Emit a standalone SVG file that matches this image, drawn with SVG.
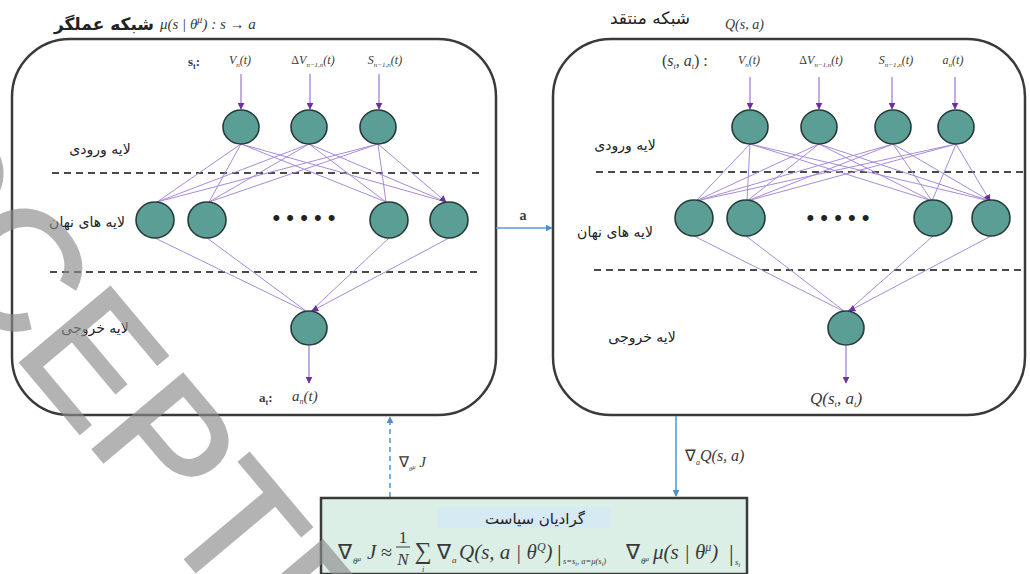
<svg xmlns="http://www.w3.org/2000/svg" width="1030" height="574" viewBox="0 0 1030 574">
<defs>
<style>
.box{fill:none;stroke:#3a3a3a;stroke-width:2.5}
.node{fill:#5b9e95;stroke:#263c39;stroke-width:1.6}
.edge{fill:none;stroke:#a88bd8;stroke-width:1;marker-end:url(#pa)}
.inarr{fill:none;stroke:#a88bd8;stroke-width:1.4;marker-end:url(#pa)}
.dash{stroke:#4a4a4a;stroke-width:2;stroke-dasharray:7 5}
.blue{stroke:#5b9bd5;stroke-width:1.6;fill:none}
.m{font-family:"Liberation Serif",serif;font-style:italic;fill:#3a3a3a}
.mn{font-family:"Liberation Serif",serif;fill:#3a3a3a}
.fa{font-family:"DejaVu Sans","Noto Sans",sans-serif;fill:#222;text-anchor:middle}
.dots{font-family:"Liberation Sans",sans-serif;font-size:22px;fill:#222;text-anchor:middle}
.wm{font-family:"Liberation Sans",sans-serif;font-size:170px;fill:#8c8c8c;stroke:#8c8c8c;stroke-width:3;opacity:0.65}
</style>
<marker id="pa" viewBox="0 0 10 10" refX="9" refY="5" markerWidth="7" markerHeight="7" orient="auto" markerUnits="userSpaceOnUse">
<path d="M0,0 L10,5 L0,10 z" fill="#7030a0"/>
</marker>
<marker id="ba" viewBox="0 0 10 10" refX="9" refY="5" markerWidth="7" markerHeight="7" orient="auto" markerUnits="userSpaceOnUse">
<path d="M0,0 L10,5 L0,10 z" fill="#4a8fd0"/>
</marker>
</defs>
<rect width="1030" height="574" fill="#fff"/>

<!-- Actor network -->
<g id="actor">
<rect class="box" x="12" y="39" width="484" height="376" rx="58" ry="58"/>
<text class="fa" x="104" y="30" font-size="17" font-weight="bold">شبکه عملگر</text>
<text class="m" x="160" y="29" font-size="15">μ(s | θ<tspan font-size="10" dy="-6">μ</tspan><tspan dy="6">) : s → a</tspan></text>
<text class="fa" x="100" y="154" font-size="14">لایه ورودی</text>
<text class="fa" x="87" y="227" font-size="14">لایه های نهان</text>
<text class="fa" x="95" y="333" font-size="14">لایه خروجی</text>
<line class="dash" x1="52" y1="173" x2="480" y2="173"/>
<line class="dash" x1="50" y1="272" x2="480" y2="272"/>
<text class="mn" x="188" y="66" font-size="13" font-weight="bold">s<tspan font-size="8" dy="3">t</tspan><tspan dy="-3">:</tspan></text>
<text class="m" x="240" y="64" font-size="12" text-anchor="middle">V<tspan font-size="7" dy="3">n</tspan><tspan dy="-3">(t)</tspan></text>
<text class="m" x="313" y="64" font-size="12" text-anchor="middle"><tspan font-style="normal">Δ</tspan>V<tspan font-size="7" dy="3">n−1,n</tspan><tspan dy="-3">(t)</tspan></text>
<text class="m" x="385" y="64" font-size="12" text-anchor="middle">S<tspan font-size="7" dy="3">n−1,n</tspan><tspan dy="-3">(t)</tspan></text>
<line class="inarr" x1="241" y1="74" x2="241" y2="109"/>
<line class="inarr" x1="310" y1="74" x2="310" y2="109"/>
<line class="inarr" x1="379" y1="74" x2="379" y2="109"/>
<text class="mn" x="259" y="402" font-size="13" font-weight="bold">a<tspan font-size="8" dy="3">t</tspan><tspan dy="-3">:</tspan></text>
<text class="m" x="292" y="401" font-size="15">a<tspan font-size="8" dy="3">n</tspan><tspan dy="-3">(t)</tspan></text>
<line class="inarr" x1="309" y1="346" x2="309" y2="383"/>
<text class="dots" x="304" y="225">• • • • •</text>
</g>

<!-- Critic network -->
<g id="critic">
<rect class="box" x="553" y="39" width="472" height="376" rx="58" ry="58"/>
<text class="fa" x="650" y="24" font-size="17">شبکه منتقد</text>
<text class="m" x="725" y="29" font-size="14">Q(s, a)</text>
<text class="fa" x="625" y="150" font-size="14">لایه ورودی</text>
<text class="fa" x="615" y="237" font-size="14">لایه های نهان</text>
<text class="fa" x="642" y="342" font-size="14">لایه خروجی</text>
<line class="dash" x1="596" y1="172" x2="1025" y2="172"/>
<line class="dash" x1="594" y1="270" x2="1025" y2="270"/>
<text class="m" x="662" y="66" font-size="16"><tspan font-style="normal">(</tspan>s<tspan font-size="8" dy="3">t</tspan><tspan dy="-3">, a</tspan><tspan font-size="8" dy="3">t</tspan><tspan dy="-3" font-style="normal">) :</tspan></text>
<text class="m" x="749" y="64" font-size="12" text-anchor="middle">V<tspan font-size="7" dy="3">n</tspan><tspan dy="-3">(t)</tspan></text>
<text class="m" x="821" y="64" font-size="12" text-anchor="middle"><tspan font-style="normal">Δ</tspan>V<tspan font-size="7" dy="3">n−1,n</tspan><tspan dy="-3">(t)</tspan></text>
<text class="m" x="896" y="64" font-size="12" text-anchor="middle">S<tspan font-size="7" dy="3">n−1,n</tspan><tspan dy="-3">(t)</tspan></text>
<text class="m" x="953" y="64" font-size="12" text-anchor="middle">a<tspan font-size="7" dy="3">n</tspan><tspan dy="-3">(t)</tspan></text>
<line class="inarr" x1="750" y1="77" x2="750" y2="109"/>
<line class="inarr" x1="819" y1="77" x2="819" y2="109"/>
<line class="inarr" x1="892" y1="77" x2="892" y2="109"/>
<line class="inarr" x1="955" y1="77" x2="955" y2="109"/>
<text class="m" x="810" y="404" font-size="17">Q(s<tspan font-size="9" dy="3">t</tspan><tspan dy="-3">, a</tspan><tspan font-size="9" dy="3">t</tspan><tspan dy="-3">)</tspan></text>
<line class="inarr" x1="846" y1="346" x2="846" y2="383"/>
<text class="dots" x="838" y="225">• • • • •</text>
</g>

<!-- Connectors -->
<g id="connectors">
<path class="edge" d="M241,144 L157,202 M241,144 L209,202 M241,144 L386,202 M241,144 L446,202
M309,144 L157,202 M309,144 L209,202 M309,144 L386,202 M309,144 L446,202
M378,144 L157,202 M378,144 L209,202 M378,144 L386,202 M378,144 L446,202"/>
<path class="edge" d="M155,238 L305,311 M207,238 L306,311 M389,238 L311,311 M449,238 L312,311"/>
<path class="edge" d="M750,144 L696,201 M750,144 L747,201 M750,144 L932,201 M750,144 L990,201
M819,144 L696,201 M819,144 L747,201 M819,144 L932,201 M819,144 L990,201
M893,144 L696,201 M893,144 L747,201 M893,144 L932,201 M893,144 L990,201
M956,144 L696,201 M956,144 L747,201 M956,144 L932,201 M956,144 L990,201"/>
<path class="edge" d="M694,236 L843,311 M746,236 L844,311 M933,236 L848,311 M991,236 L849,311"/>
<line class="blue" x1="496" y1="228" x2="552" y2="228" marker-end="url(#ba)"/>
<text class="mn" x="523" y="220" font-size="14" font-weight="bold" text-anchor="middle">a</text>
<line class="blue" x1="676" y1="416" x2="676" y2="496" marker-end="url(#ba)"/>
<text class="m" x="685" y="461" font-size="16"><tspan font-style="normal">∇</tspan><tspan font-size="8" dy="4">a</tspan><tspan dy="-4">Q(s, a)</tspan></text>
<line class="blue" x1="390" y1="497" x2="390" y2="417" stroke-dasharray="5 4" marker-end="url(#ba)"/>
<text class="m" x="399" y="467" font-size="15"><tspan font-style="normal">∇</tspan><tspan font-size="7" dy="4">θ</tspan><tspan font-size="6" dy="-2">μ</tspan><tspan dy="-2"> J</tspan></text>
</g>

<!-- Nodes -->
<g id="actor-input-1"><ellipse class="node" cx="241" cy="127" rx="18" ry="17"/></g>
<g id="actor-input-2"><ellipse class="node" cx="309" cy="127" rx="18" ry="17"/></g>
<g id="actor-input-3"><ellipse class="node" cx="378" cy="127" rx="18" ry="17"/></g>
<g id="actor-hidden-1"><ellipse class="node" cx="155" cy="220" rx="19" ry="18"/></g>
<g id="actor-hidden-2"><ellipse class="node" cx="207" cy="220" rx="19" ry="18"/></g>
<g id="actor-hidden-3"><ellipse class="node" cx="389" cy="220" rx="19" ry="18"/></g>
<g id="actor-hidden-4"><ellipse class="node" cx="449" cy="220" rx="19" ry="18"/></g>
<g id="actor-output"><ellipse class="node" cx="309" cy="328" rx="18" ry="17"/></g>

<g id="critic-input-1"><ellipse class="node" cx="750" cy="127" rx="18" ry="17"/></g>
<g id="critic-input-2"><ellipse class="node" cx="819" cy="127" rx="18" ry="17"/></g>
<g id="critic-input-3"><ellipse class="node" cx="893" cy="127" rx="18" ry="17"/></g>
<g id="critic-input-4"><ellipse class="node" cx="956" cy="127" rx="18" ry="17"/></g>
<g id="critic-hidden-1"><ellipse class="node" cx="694" cy="218" rx="19" ry="18"/></g>
<g id="critic-hidden-2"><ellipse class="node" cx="746" cy="218" rx="19" ry="18"/></g>
<g id="critic-hidden-3"><ellipse class="node" cx="933" cy="218" rx="19" ry="18"/></g>
<g id="critic-hidden-4"><ellipse class="node" cx="991" cy="218" rx="19" ry="18"/></g>
<g id="critic-output"><ellipse class="node" cx="846" cy="328" rx="18" ry="17"/></g>

<!-- Policy gradient box -->
<g id="policy-gradient">
<rect x="321" y="498" width="426" height="76" fill="#dcefe6" stroke="#3a3a3a" stroke-width="2.5"/>
<rect x="437" y="507" width="173" height="21" fill="#d5eaf2"/>
<text class="fa" x="535" y="524" font-size="15">گرادیان سیاست</text>
<text class="mn" x="338" y="559" font-size="21">∇</text>
<text class="m" x="353" y="564" font-size="9">θ<tspan font-size="7" dy="-3">μ</tspan></text>
<text class="m" x="367" y="559" font-size="21">J</text>
<text class="mn" x="381" y="559" font-size="20">≈</text>
<text class="mn" x="403" y="543" font-size="17" text-anchor="middle">1</text>
<line x1="396" y1="547" x2="410" y2="547" stroke="#3a3a3a" stroke-width="1"/>
<text class="m" x="403" y="565" font-size="17" text-anchor="middle">N</text>
<text class="mn" x="423" y="559" font-size="24" text-anchor="middle">∑</text>
<text class="m" x="423" y="572" font-size="8" text-anchor="middle">i</text>
<text class="mn" x="437" y="559" font-size="21">∇</text>
<text class="m" x="452" y="563" font-size="9">a</text>
<text class="m" x="459" y="559" font-size="21">Q(s, a | θ<tspan font-size="12" dy="-8">Q</tspan><tspan dy="8">)</tspan></text>
<text class="mn" x="557" y="561" font-size="23">|</text>
<text class="m" x="563" y="564" font-size="8.5">s=s<tspan font-size="6" dy="2">i</tspan><tspan dy="-2">, a=μ(s</tspan><tspan font-size="6" dy="2">i</tspan><tspan dy="-2">)</tspan></text>
<text class="mn" x="626" y="559" font-size="21">∇</text>
<text class="m" x="641" y="564" font-size="9">θ<tspan font-size="7" dy="-3">μ</tspan></text>
<text class="m" x="653" y="559" font-size="21">μ(s | θ<tspan font-size="12" dy="-8">μ</tspan><tspan dy="8">)</tspan></text>
<text class="mn" x="729" y="561" font-size="23">|</text>
<text class="m" x="735" y="565" font-size="9">s<tspan font-size="6" dy="2">i</tspan></text>
</g>

<!-- Watermark -->
<g id="watermark">
<text class="wm" transform="translate(-219,77) rotate(50)" x="0" y="0">ACCEPTED</text>
</g>
</svg>
